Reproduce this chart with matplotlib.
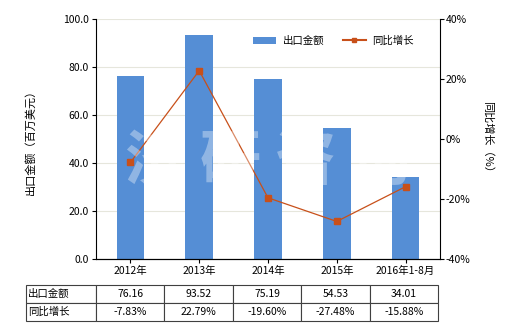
import matplotlib
matplotlib.use("Agg")
import matplotlib.pyplot as plt
from matplotlib.patches import Patch
from matplotlib.lines import Line2D

plt.rcParams['font.family'] = ['Noto Sans CJK SC', 'DejaVu Sans']

categories = ["2012年", "2013年", "2014年", "2015年", "2016年1-8月"]
export_values = [76.16, 93.52, 75.19, 54.53, 34.01]
growth_values = [-7.83, 22.79, -19.60, -27.48, -15.88]
export_labels = ["76.16", "93.52", "75.19", "54.53", "34.01"]
growth_labels = ["-7.83%", "22.79%", "-19.60%", "-27.48%", "-15.88%"]
left_ticks = [0, 20, 40, 60, 80, 100]
right_ticks = [-40, -20, 0, 20, 40]

bar_color = "#558ED5"
line_color = "#C8501A"
fs = 7.5

fig = plt.figure(figsize=(5.2, 3.3), dpi=100)
ax = fig.add_axes([96/520, 1-259/330, 344/520, 240/330])
x = list(range(len(categories)))
ax.bar(x, export_values, width=0.4, color=bar_color, zorder=2)
ax.set_xlim(-0.5, len(categories)-0.5)
ax.set_ylim(0, 100)
ax.set_yticks(left_ticks)
ax.set_yticklabels([f"{v:.1f}" for v in left_ticks], fontsize=fs)
ax.set_xticks(x)
ax.set_xticklabels(categories, fontsize=fs)
ax.grid(axis='y', color='#E6E6DC', linewidth=0.8, zorder=0)
ax.set_axisbelow(True)
ax.spines['top'].set_visible(False)
ax.spines['right'].set_visible(False)
ax.tick_params(axis='both', length=3, width=0.8, pad=2)
ax.set_ylabel("出口金额（百万美元）", fontsize=fs+0.5, labelpad=20)

ax2 = ax.twinx()
ax2.plot(x, growth_values, color=line_color, linewidth=0.9, marker='s', markersize=4, zorder=3)
ax2.set_ylim(-40, 40)
ax2.set_yticks(right_ticks)
ax2.set_yticklabels([f"{v}%" for v in right_ticks], fontsize=fs)
ax2.spines['top'].set_visible(False)
ax2.spines['left'].set_visible(False)
ax2.tick_params(axis='y', length=3, width=0.8, pad=1)
ax2.set_ylabel("同比增长（%）", fontsize=fs+0.5, rotation=270, labelpad=16)

# watermark
fig.text(268/520, 1-162/330, "济 研 咨 询", fontsize=44, color='white', alpha=0.35,
         ha='center', va='center', fontweight='bold', zorder=10)

handles = [Patch(facecolor=bar_color, edgecolor='none'),
           Line2D([0], [0], color=line_color, marker='s', markersize=3, linewidth=1.5)]
ax2.legend(handles, ["出口金额", "同比增长"], loc='upper right', bbox_to_anchor=(0.95, 0.97),
           ncol=2, frameon=False, fontsize=fs, handlelength=2.2, columnspacing=1.8,
           handletextpad=0.6)

# table
tax = fig.add_axes([26/520, 1-321/330, 412/520, 36/330])
tax.axis('off')
cell_text = [["出口金额"] + export_labels, ["同比增长"] + growth_labels]
first_w = 70/412
other_w = (1 - first_w) / len(categories)
tbl = tax.table(cellText=cell_text, bbox=[0, 0, 1, 1],
                colWidths=[first_w] + [other_w]*len(categories), cellLoc='center')
tbl.auto_set_font_size(False)
tbl.set_fontsize(fs)
for (r, c), cell in tbl.get_celld().items():
    cell.set_edgecolor('#404040')
    cell.set_linewidth(0.8)
    if c == 0:
        cell._loc = 'left'
        cell.PAD = 0.03
        cell.get_text().set_horizontalalignment('left')

fig.savefig("out.png", dpi=100)
